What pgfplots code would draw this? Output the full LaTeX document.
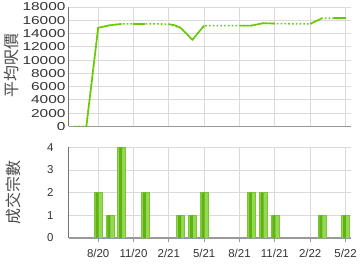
\documentclass[border=0pt]{standalone}
\usepackage{fontspec}
\setmainfont{Liberation Sans}
\newfontfamily\cjk{Noto Sans CJK TC}
\newfontfamily\wide[FakeStretch=1.35]{Liberation Sans}
\usepackage{pgfplots}
\pgfplotsset{compat=1.18}
\definecolor{lg}{RGB}{102,204,0}
\definecolor{barlight}{RGB}{150,215,85}
\definecolor{bardark}{RGB}{95,178,20}
\definecolor{baredge}{RGB}{120,200,50}
\definecolor{gridc}{RGB}{218,218,218}
\definecolor{txt}{RGB}{51,51,51}
\pgfplotsset{
  common/.style={
    scale only axis, width=284pt,
    xmin=-2.5, xmax=21.5,
    xtick={0,3,...,21},
    axis x line*=bottom, axis y line*=left,
    x axis line style={draw=black!40, line width=1.6pt, -},
    y axis line style={draw=black!55, line width=0.8pt, -},
    grid=major, major grid style={draw=gridc, line width=0.8pt},
    tick label style={text=txt},
    scaled ticks=false,
    /pgf/number format/assume math mode=true,
    /pgf/number format/1000 sep={},
  }
}
\begin{document}
\begin{tikzpicture}
\path (0pt,0pt) rectangle (360pt,270pt);
\begin{axis}[common, at={(69pt,143pt)}, anchor=south west, height=120pt,
  ymin=0, ymax=18000, ytick={0,2000,...,18000},
  xticklabels={}, xtick style={draw=none}, ytick style={draw=none},
  yticklabel style={font=\wide\fontsize{11.5}{12}\selectfont, inner sep=0pt, xshift=-3pt},
]
\addplot[lg, line width=1.6pt, dash pattern=on 1.6pt off 2.2pt] coordinates {
(-2,0) (-1,0) (0,14850) (1,15250) (2,15450) (3,15450) (4,15450) (5,15450) (6,15400)
(7,14850) (8,13050) (9,15200) (10,15200) (11,15200) (12,15200) (13,15200) (14,15550)
(15,15500) (16,15480) (17,15470) (18,15450) (19,16300) (20,16300) (21,16300)};
\addplot[lg, line width=1.6pt] coordinates {(-1,0) (0,14850) (1,15250) (2,15450)};
\addplot[lg, line width=1.6pt] coordinates {(3,15450) (4,15450)};
\addplot[lg, line width=1.6pt, smooth, tension=0.3] coordinates {(6,15400) (6.5,15250) (7,14850)};
\addplot[lg, line width=1.6pt] coordinates {(7,14850) (8,13050) (9,15200)};
\addplot[lg, line width=1.6pt] coordinates {(12,15200) (13,15200) (14,15550) (15,15500)};
\addplot[lg, line width=1.6pt] coordinates {(18,15450) (19,16300)};
\addplot[lg, line width=1.6pt] coordinates {(20,16300) (21,16300)};
\end{axis}
\begin{axis}[common, at={(69pt,31pt)}, anchor=south west, height=91pt,
  ymin=0, ymax=4, ytick={0,1,2,3,4},
  xticklabels={8/20,11/20,2/21,5/21,8/21,11/21,2/22,5/22},
  xtick style={draw=black!40, line width=0.8pt}, xtick pos=bottom,
  major tick length=4pt, tick align=outside,
  ytick style={draw=none},
  xticklabel style={font=\fontsize{11.5}{12}\selectfont, yshift=-4pt},
  yticklabel style={font=\fontsize{11.5}{12}\selectfont, inner sep=0pt, xshift=-11pt},
]
\addplot[ybar, bar width=8pt, bar shift=0pt, fill=barlight, draw=baredge, line width=0.6pt] coordinates {
(0,2) (1,1) (2,4) (4,2) (7,1) (8,1) (9,2) (13,2) (14,2) (15,1) (19,1) (21,1)};
\addplot[ybar, bar width=3pt, bar shift=-1pt, fill=bardark, draw=none] coordinates {
(0,2) (1,1) (2,4) (4,2) (7,1) (8,1) (9,2) (13,2) (14,2) (15,1) (19,1) (21,1)};
\end{axis}
\node[rotate=90, text=black!70, font=\cjk\fontsize{16}{16}\selectfont] at (12pt,204pt) {平均呎價};
\node[rotate=90, text=black!70, font=\cjk\fontsize{16}{16}\selectfont] at (13.5pt,77pt) {成交宗數};
\end{tikzpicture}
\end{document}
